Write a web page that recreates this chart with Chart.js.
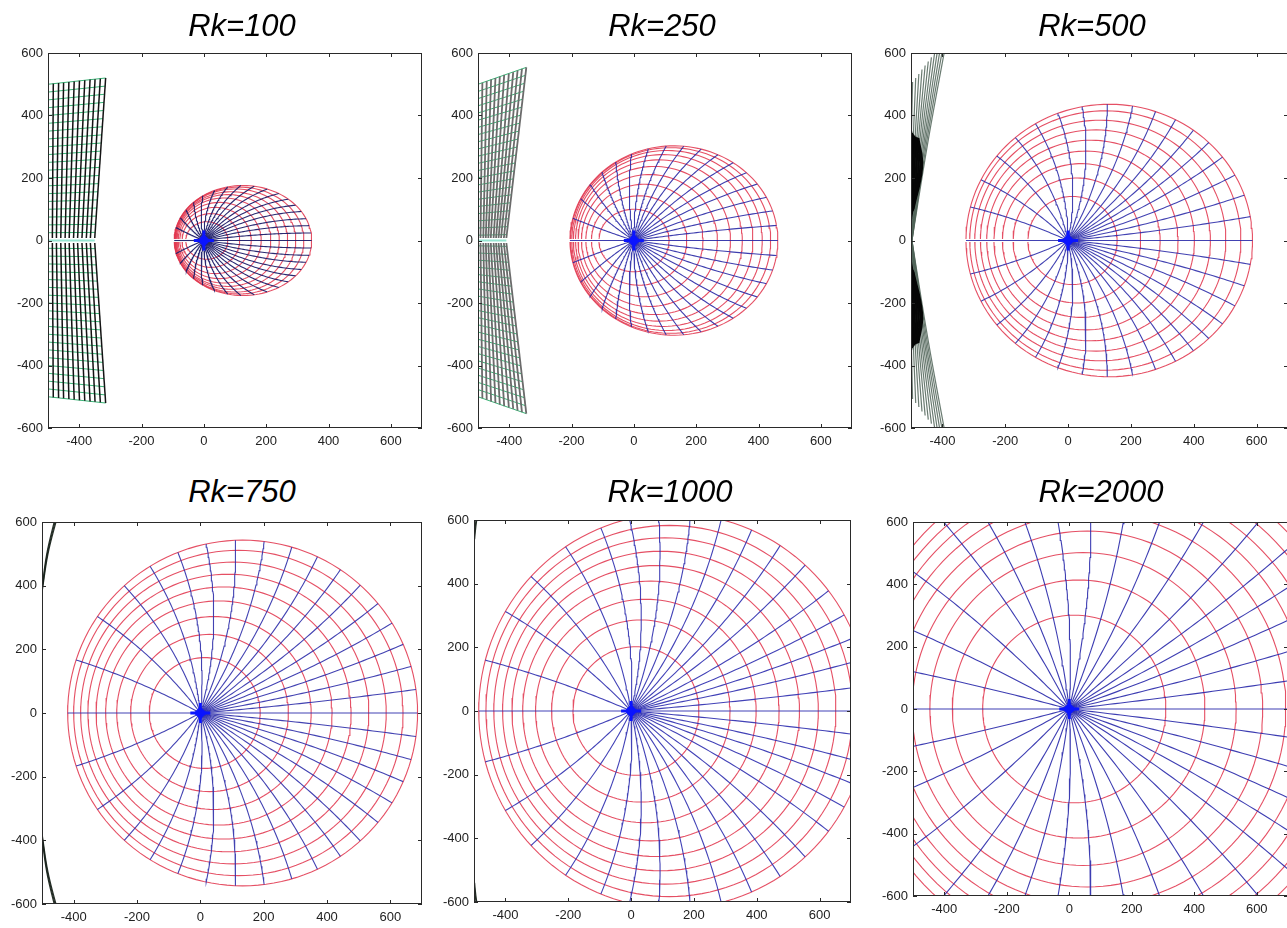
<!DOCTYPE html>
<html>
<head>
<meta charset="utf-8">
<title>Rk</title>
<script src="https://cdn.jsdelivr.net/npm/chart.js@4.4.1/dist/chart.umd.min.js"></script>
<style>
  html, body { margin: 0; padding: 0; background: #fff; }
  body { width: 1287px; height: 928px; position: relative; overflow: hidden; }
  .panel { position: absolute; }
  .title {
    position: absolute; width: 300px; margin-left: -150px; text-align: center;
    font: italic 31px/31px "Liberation Sans", Arial, sans-serif; color: #000;
  }
</style>
</head>
<body>
<script>
// shared axes
const X_MIN = -500, X_MAX = 700, Y_MIN = -600, Y_MAX = 600;
const xTickValues = [-400, -200, 0, 200, 400, 600];
const yTickValues = [-600, -400, -200, 0, 200, 400, 600];

const rkValues = [100, 250, 500, 750, 1000, 2000];

// red rings: [left x-intercept, right x-intercept, half height]
const rings100 = [[-58, 77, 60], [-70, 115, 86], [-77, 152, 106], [-82, 184, 122], [-86, 215, 136],
  [-89, 242, 147], [-91, 269, 156], [-93, 295, 165], [-94, 321, 171], [-95, 346, 176]];
const rings250 = [[-112, 113, 100], [-136, 170, 143], [-154, 222, 180], [-168, 268, 211], [-179, 310, 237],
  [-187, 348, 258], [-194, 382, 275], [-199, 412, 288], [-203, 439, 297], [-205, 462, 303]];
const rings500 = [[-128, 156, 141], [-175, 231, 200], [-209, 293, 246], [-236, 350, 286], [-259, 402, 321],
  [-279, 453, 354], [-297, 502, 385], [-313, 550, 415], [-325, 587, 436]];
const rings750 = [[-161, 189, 174], [-220, 278, 247], [-264, 350, 303], [-299, 416, 352], [-329, 476, 396],
  [-355, 532, 436], [-378, 587, 474], [-400, 640, 511], [-419, 686, 543]];
const rings1000 = [[-185, 216, 202], [-253, 315, 286], [-304, 398, 351], [-345, 471, 408], [-379, 536, 457],
  [-409, 596, 502], [-437, 652, 544], [-462, 705, 583], [-485, 757, 620]];
const rings2000 = [[-277, 309, 301], [-374, 434, 414], [-446, 534, 502], [-503, 619, 571], [-551, 693, 630],
  [-593, 760, 684], [-629, 820, 732], [-660, 874, 775], [-689, 926, 815]];

// blue spokes: direction (deg) from the origin to where each spoke meets the outer ring, upper half
const spokes100 = [0, 4, 8, 12, 16.5, 21, 26, 32, 39, 47, 56, 66, 78, 91, 105, 120, 136, 155, 180];
const spokes250 = [0, 6, 12, 18, 24.5, 31, 38, 45.5, 53.5, 62, 71, 81, 91.5, 103, 115, 128, 142, 160, 180];
const spokes500 = [0, 7.5, 14.5, 21.5, 28.5, 35, 41.5, 48.5, 56, 64.5, 74, 84, 94.5, 105.5, 117, 130, 145, 161, 180];
const spokes750 = [0, 6.2, 12.4, 18.6, 25, 31.5, 38.5, 45.5, 53, 61, 69.5, 78.5, 88, 98, 109, 121, 137, 157, 180];
const spokes1000 = [0, 6, 12.4, 18, 24, 31, 39.6, 47.6, 56, 64.5, 73, 82, 90.5, 99.5, 112, 127, 142, 161, 180];
const spokes2000 = [0, 7.6, 15.2, 22.7, 29.6, 36.5, 45, 55.5, 66, 76, 85.6, 95.5, 105, 114.5, 124, 139, 154, 167, 180];

// point on the x axis that every spoke's circle also passes through
const spokePoles = [700, 1800, -1450, -2130, -2575, -5400];

// left-hand grid (Rk=100, Rk=250): column tops, their heights, column feet at y=0, row heights on the left column
const grid100TopX = [-500, -483, -466, -450, -433, -416, -399, -382, -365, -349, -332, -315];
const grid100TopY = [500, 502, 504, 505, 507, 509, 511, 513, 515, 516, 518, 520];
const grid100MidX = [-500, -486, -473, -459, -445, -432, -418, -405, -391, -377, -364, -350];
const grid100RowY = [500, 475, 450, 425, 400, 375, 350, 325, 300, 275, 250, 225, 200, 175, 150, 125, 100, 75, 50, 25];

const grid250TopX = [-500, -486, -472, -458, -444, -430, -416, -401, -387, -373, -359, -345];
const grid250TopY = [500, 505, 510, 515, 520, 525, 530, 534, 539, 544, 549, 554];
const grid250MidX = [-500, -492, -483, -475, -467, -459, -450, -442, -434, -426, -417, -409];
const grid250RowY = [500, 477, 454, 431, 408, 385, 362, 339, 316, 293, 270, 247, 224, 201, 178, 155, 132, 109, 86, 63, 40, 17];

// curved bands at the left edge: each column through a top, middle and low point
const band500 = [
  [[-495, 507], [-500, 253], [-500, 0]], [[-485, 520], [-495, 259], [-500, 0]],
  [[-475, 533], [-490, 266], [-499, 0]], [[-465, 547], [-485, 272], [-499, 0]],
  [[-455, 560], [-480, 278], [-499, 0]], [[-445, 573], [-475, 285], [-498, 0]],
  [[-435, 586], [-470, 291], [-498, 0]], [[-425, 599], [-465, 297], [-498, 0]],
  [[-415, 613], [-460, 303], [-498, 0]], [[-405, 626], [-455, 310], [-497, 0]],
  [[-395, 639], [-450, 316], [-497, 0]], [[-385, 652], [-445, 322], [-497, 0]]
];
// dark core of the Rk=500 band, where its columns crowd together
const band500Core = [
  [[-500, 350], [-500, 220], [-500, 70]], [[-497, 345], [-494, 220], [-500, 75]],
  [[-494, 340], [-488, 222], [-499, 80]], [[-490, 336], [-482, 225], [-498, 85]],
  [[-486, 332], [-476, 228], [-497, 90]], [[-482, 330], [-470, 232], [-495, 95]],
  [[-477, 328], [-465, 236], [-493, 100]]
];
const band750 = [
  [[-458, 615], [-485, 500], [-501, 385]], [[-455, 615], [-483, 500], [-500, 385]],
  [[-452, 615], [-481, 500], [-499, 385]]
];
const band1000 = [
  [[-492, 615], [-496, 580], [-500, 540]], [[-489, 615], [-494, 580], [-498, 540]]
];

// chart-area boxes on the page: left, top, width, height
const panelBoxes = [[48, 52, 375, 376], [478, 52, 375, 376], [911, 52, 378, 376],
  [42, 521, 381, 383], [474, 519, 378, 383], [913, 521, 376, 375]];
const titleSpots = [[242, 10], [662, 10], [1092, 10], [242, 476], [670, 476], [1101, 476]];

const ringSets = [rings100, rings250, rings500, rings750, rings1000, rings2000];
const spokeSets = [spokes100, spokes250, spokes500, spokes750, spokes1000, spokes2000];
const ringGapY = [5, 5, 5, 0, 0, 0];
const spokeColors = ['rgba(30,30,105,0.95)', 'rgba(40,40,165,0.9)', 'rgba(45,45,170,0.9)',
  'rgba(45,45,170,0.9)', 'rgba(45,45,175,0.9)', 'rgba(40,40,170,0.9)'];
const RING_COLOR = 'rgba(225,55,78,0.88)';
const STAR_BLUE = '#0a14ff';

const PAD_LEFT = 45, PAD_TOP = 12, PAD_RIGHT = 12, PAD_BOTTOM = 30;
const TAU = Math.PI * 2;

// drawing layers: lower order is painted on top
const LAYER = { star: 0, spoke: 1, ring: 2, core: 3, patch: 4 };

function ringPath(ring, gapY) {
  const [l, r, h] = ring;
  const cx = (l + r) / 2, a = (r - l) / 2;
  const g = gapY > 0 ? Math.asin(Math.min(1, gapY / h)) : 0;
  const pts = [];
  const n = 140;
  for (let i = 0; i <= n; i++) {
    const u = -Math.PI + g + (TAU - 2 * g) * i / n;
    pts.push({ x: cx + a * Math.cos(u), y: h * Math.sin(u) });
  }
  return pts;
}

// arc from the origin to the outer ring, on the circle that also passes through (pole, 0)
function spokePath(deg, pole, outer) {
  const [l, r, h] = outer;
  const cx = (l + r) / 2, a = (r - l) / 2;
  const t = deg * Math.PI / 180;
  const c = Math.cos(t), s = Math.sin(t);
  const A = c * c / (a * a) + s * s / (h * h);
  const B = -2 * c * cx / (a * a);
  const C = cx * cx / (a * a) - 1;
  const d = (-B + Math.sqrt(B * B - 4 * A * C)) / (2 * A);
  const ex = d * c, ey = d * s;
  if (Math.abs(ey) < 1e-6) return [{ x: 0, y: 0 }, { x: ex, y: 0 }];
  const px = pole / 2;
  const k = (ex * ex - pole * ex + ey * ey) / (2 * ey);
  const R = Math.hypot(px, k);
  const mod = v => ((v % TAU) + TAU) % TAU;
  const a0 = Math.atan2(-k, -px);
  const aE = Math.atan2(ey - k, ex - px);
  const aP = Math.atan2(-k, px);
  let span = mod(aE - a0);
  if (mod(aP - a0) < span) span -= TAU;
  const pts = [];
  const n = 50;
  for (let i = 0; i <= n; i++) {
    const u = a0 + span * i / n;
    pts.push({ x: px + R * Math.cos(u), y: k + R * Math.sin(u) });
  }
  return pts;
}

const mirror = pts => pts.map(p => ({ x: p.x, y: -p.y }));
const toPoints = col => col.map(p => ({ x: p[0], y: p[1] }));

function gridLines(topX, topY, midX, rowY) {
  const n = topX.length - 1;
  const cols = topX.map((tx, j) => [{ x: midX[j], y: 8 }, { x: tx, y: topY[j] }]);
  const rows = rowY.map(ry => {
    const f = ry / topY[0];
    return [
      { x: midX[0] + f * (topX[0] - midX[0]), y: f * topY[0] },
      { x: midX[n] + f * (topX[n] - midX[n]), y: f * topY[n] }
    ];
  });
  return { cols, rows };
}

function line(points, color, width, order, extra) {
  return Object.assign({
    type: 'scatter', data: points, showLine: true, borderColor: color, borderWidth: width,
    pointRadius: 0, pointHoverRadius: 0, fill: false, tension: 0, clip: 0, order: order
  }, extra || {});
}

function patchDatasets(i) {
  const out = [];
  const addBoth = (pts, color, width, order, extra) => {
    out.push(line(pts, color, width, order, extra));
    out.push(line(mirror(pts), color, width, order, extra));
  };
  if (i === 0 || i === 1) {
    const g = i === 0
      ? gridLines(grid100TopX, grid100TopY, grid100MidX, grid100RowY)
      : gridLines(grid250TopX, grid250TopY, grid250MidX, grid250RowY);
    const colColor = i === 0 ? '#141414' : '#6b6b6b';
    g.cols.forEach(c => addBoth(c, colColor, i === 0 ? 1.5 : 1.8, LAYER.patch));
    g.rows.forEach(r => addBoth(r, 'rgba(45,175,110,0.95)', 1, LAYER.patch));
    const mid = i === 0 ? grid100MidX : grid250MidX;
    out.push(line([{ x: -500, y: 0 }, { x: mid[mid.length - 1], y: 0 }], 'rgba(150,230,210,1)', 2, LAYER.patch));
  } else if (i === 2) {
    band500.forEach(col => addBoth(toPoints(col), 'rgba(80,100,88,0.85)', 1.2, LAYER.patch, { tension: 0.4 }));
    band500Core.forEach(col => addBoth(toPoints(col), '#060606', 2.4, LAYER.core, { tension: 0.4 }));
  } else if (i === 3 || i === 4) {
    const band = i === 3 ? band750 : band1000;
    band.forEach(col => addBoth(toPoints(col), 'rgba(20,30,22,0.9)', 1.2, LAYER.patch, { tension: 0.4 }));
  }
  return out;
}

function panelDatasets(i) {
  const rings = ringSets[i];
  const outer = rings[rings.length - 1];
  const sets = patchDatasets(i);
  rings.forEach(r => sets.push(line(ringPath(r, ringGapY[i]), RING_COLOR, 1.1, LAYER.ring)));
  spokeSets[i].forEach(deg => {
    sets.push(line(spokePath(deg, spokePoles[i], outer), spokeColors[i], 1.1, LAYER.spoke));
    if (deg > 0 && deg < 180) {
      sets.push(line(spokePath(-deg, spokePoles[i], outer), spokeColors[i], 1.1, LAYER.spoke));
    }
  });
  // bright marker where all spokes meet
  sets.push({ type: 'scatter', data: [{ x: 0, y: 0 }], pointStyle: 'cross', pointRadius: 10,
    borderColor: STAR_BLUE, borderWidth: 3, clip: 0, order: LAYER.star });
  sets.push({ type: 'scatter', data: [{ x: 0, y: 0 }], pointStyle: 'rectRot', pointRadius: 6,
    backgroundColor: STAR_BLUE, borderColor: STAR_BLUE, borderWidth: 1, clip: 0, order: LAYER.star });
  return sets;
}

// box with inward ticks on all four sides
const framePlugin = {
  id: 'frame',
  afterDatasetsDraw(chart) {
    const { ctx, chartArea: { left, right, top, bottom }, scales: { x, y } } = chart;
    ctx.save();
    ctx.strokeStyle = '#2a2a2a';
    ctx.lineWidth = 1;
    ctx.beginPath();
    xTickValues.forEach(v => {
      const px = Math.round(x.getPixelForValue(v)) + 0.5;
      ctx.moveTo(px, bottom); ctx.lineTo(px, bottom - 4);
      ctx.moveTo(px, top); ctx.lineTo(px, top + 4);
    });
    yTickValues.forEach(v => {
      const py = Math.round(y.getPixelForValue(v)) + 0.5;
      ctx.moveTo(left, py); ctx.lineTo(left + 4, py);
      ctx.moveTo(right, py); ctx.lineTo(right - 4, py);
    });
    ctx.stroke();
    ctx.strokeRect(left + 0.5, top + 0.5, right - left - 1, bottom - top - 1);
    ctx.restore();
  }
};

const tickFont = { family: '"Liberation Sans", Arial, sans-serif', size: 13 };

rkValues.forEach((rk, i) => {
  const [bx, by, bw, bh] = panelBoxes[i];
  const wrap = document.createElement('div');
  wrap.className = 'panel';
  wrap.style.left = (bx - PAD_LEFT) + 'px';
  wrap.style.top = (by - PAD_TOP) + 'px';
  const canvas = document.createElement('canvas');
  canvas.width = bw + PAD_LEFT + PAD_RIGHT;
  canvas.height = bh + PAD_TOP + PAD_BOTTOM;
  wrap.appendChild(canvas);
  document.body.appendChild(wrap);

  const title = document.createElement('div');
  title.className = 'title';
  title.style.left = titleSpots[i][0] + 'px';
  title.style.top = titleSpots[i][1] + 'px';
  title.textContent = 'Rk=' + rk;
  document.body.appendChild(title);

  new Chart(canvas, {
    type: 'scatter',
    data: { datasets: panelDatasets(i) },
    options: {
      responsive: false,
      animation: false,
      events: [],
      layout: { padding: { top: PAD_TOP, right: PAD_RIGHT, left: 0, bottom: 0 } },
      plugins: { legend: { display: false }, tooltip: { enabled: false } },
      scales: {
        x: {
          type: 'linear', min: X_MIN, max: X_MAX,
          afterBuildTicks: s => { s.ticks = xTickValues.map(v => ({ value: v })); },
          afterFit: s => { s.height = PAD_BOTTOM; },
          grid: { display: false, drawTicks: false },
          border: { display: false },
          ticks: { font: tickFont, color: '#222', padding: 6, maxRotation: 0, autoSkip: false, callback: v => String(v) }
        },
        y: {
          type: 'linear', min: Y_MIN, max: Y_MAX,
          afterBuildTicks: s => { s.ticks = yTickValues.map(v => ({ value: v })); },
          afterFit: s => { s.width = PAD_LEFT; },
          grid: { display: false, drawTicks: false },
          border: { display: false },
          ticks: { font: tickFont, color: '#222', padding: 5, autoSkip: false, callback: v => String(v) }
        }
      }
    },
    plugins: [framePlugin]
  });
});
</script>
</body>
</html>
